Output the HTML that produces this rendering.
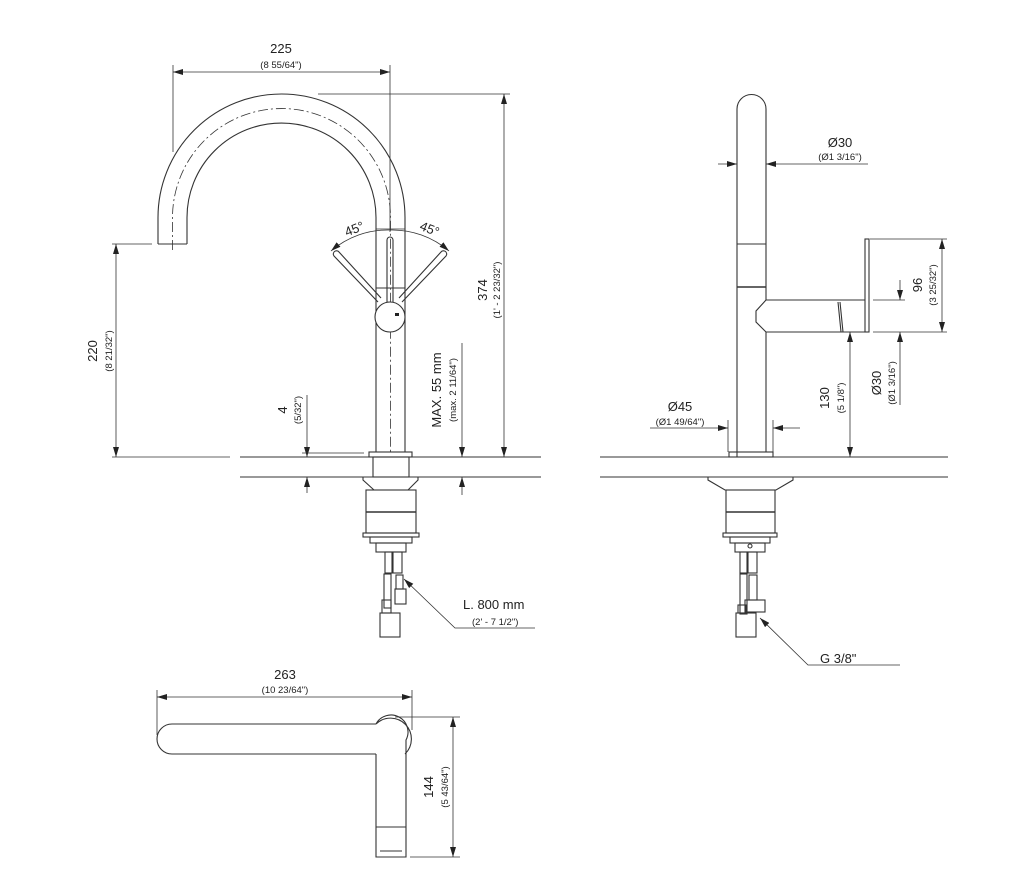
<!DOCTYPE html>
<html><head><meta charset="utf-8"><style>
html,body{margin:0;padding:0;background:#fff;}
svg{display:block;}
text{font-family:"Liberation Sans",sans-serif;fill:#222;}
.b{font-size:13px;}
.s{font-size:9.5px;}
</style></head><body>
<svg width="1027" height="896" viewBox="0 0 1027 896" xmlns="http://www.w3.org/2000/svg">
<defs>
<marker id="a" viewBox="0 0 10 6" refX="10" refY="3" markerWidth="10" markerHeight="6" orient="auto-start-reverse" markerUnits="userSpaceOnUse"><path d="M0,0 L10,3 L0,6 z" fill="#222"/></marker>
</defs>
<g stroke="#333" stroke-width="1.1" fill="none">
<!-- ===== FRONT VIEW ===== -->
<!-- spout outer/inner -->
<path d="M158,244 L158,217.5 A123.5,123.5 0 0 1 405,217.5 L405,452"/>
<path d="M187,244 L187,217.5 A94.5,94.5 0 0 1 376,217.5 L376,452"/>
<line x1="158" y1="244" x2="187" y2="244"/>
<path d="M172.5,250 L172.5,217.5 A109,109 0 0 1 390.5,217.5 L390.5,452" stroke-dasharray="10,3,2,3" stroke-width="0.8"/>
<!-- 225 dim -->
<line x1="173" y1="65" x2="173" y2="152" stroke-width="0.8"/>
<line x1="390" y1="65" x2="390" y2="232" stroke-width="0.8"/>
<line x1="173" y1="72" x2="390" y2="72" marker-start="url(#a)" marker-end="url(#a)" stroke-width="0.8"/>
<!-- 374 dim -->
<line x1="318" y1="94" x2="510" y2="94" stroke-width="0.8"/>
<line x1="504" y1="94" x2="504" y2="457" marker-start="url(#a)" marker-end="url(#a)" stroke-width="0.8"/>
<!-- 220 dim -->
<line x1="112" y1="244" x2="152" y2="244" stroke-width="0.8"/>
<line x1="116" y1="244" x2="116" y2="457" marker-start="url(#a)" marker-end="url(#a)" stroke-width="0.8"/>
<line x1="112" y1="457" x2="230" y2="457" stroke-width="0.8"/>
<!-- floors -->
<line x1="240" y1="457" x2="541" y2="457"/>
<line x1="240" y1="477" x2="541" y2="477"/>
<!-- lever -->
<line x1="376" y1="288" x2="405" y2="288"/>
<circle cx="390" cy="317" r="15" fill="#fff"/>
<rect x="395" y="313" width="4" height="3" fill="#222" stroke="none"/>
<path d="M387,302 L387,240 A3,3 0 0 1 393,240 L393,302"/>
<path d="M378,302 L334,256 A3,3 0 0 1 339,252 L381,298"/>
<path d="M402,302 L446,256 A3,3 0 0 0 441,252 L399,298"/>
<!-- 45 arc -->
<path d="M331,251 A87,87 0 0 1 390,230" marker-start="url(#a)" stroke-width="0.8"/>
<path d="M449,251 A87,87 0 0 0 390,230" marker-start="url(#a)" stroke-width="0.8"/>
<line x1="376" y1="229" x2="405" y2="229" stroke-width="0.8"/>
<!-- 4 dim -->
<line x1="307" y1="395" x2="307" y2="457" marker-end="url(#a)" stroke-width="0.8"/>
<line x1="307" y1="493" x2="307" y2="477" marker-end="url(#a)" stroke-width="0.8"/>
<line x1="302" y1="453" x2="364" y2="453" stroke-width="0.8"/>
<!-- max 55 -->
<line x1="462" y1="343" x2="462" y2="457" marker-end="url(#a)" stroke-width="0.8"/>
<line x1="462" y1="495" x2="462" y2="477" marker-end="url(#a)" stroke-width="0.8"/>
<!-- base -->
<rect x="369" y="452" width="43" height="5"/>
<rect x="373" y="457" width="36" height="20"/>
<path d="M363,477 L418,477 L418,480 L408,490 L374,490 L363,480 Z"/>
<rect x="366" y="490" width="50" height="43"/>
<line x1="366" y1="512" x2="416" y2="512" stroke-width="1.6"/>
<rect x="363" y="533" width="56" height="4"/>
<rect x="370" y="537" width="42" height="6"/>
<rect x="376" y="543" width="30" height="9"/>
<rect x="385" y="552" width="7" height="21"/>
<rect x="393" y="552" width="9" height="21"/>
<rect x="384" y="574" width="7" height="34"/>
<rect x="396" y="575" width="7" height="14"/>
<rect x="395" y="589" width="11" height="15"/>
<rect x="382" y="600" width="9" height="13"/>
<rect x="380" y="613" width="20" height="24"/>
<!-- L800 leader -->
<polyline points="404,579 455,628 535,628" stroke-width="0.8" marker-start="url(#a)"/>

<!-- ===== SIDE VIEW ===== -->
<path d="M737,457 L737,109 A14.5,14.5 0 0 1 766,109 L766,300"/>
<line x1="766" y1="332" x2="766" y2="452"/>
<line x1="737" y1="244" x2="766" y2="244"/>
<line x1="737" y1="287" x2="766" y2="287" stroke-width="1.6"/>
<path d="M766,300 L840,300 M766,332 L840,332 M766,300 L756,311 L756,322 L766,332"/>
<path d="M840,300 L865,300 M840,332 L865,332 M840,302 L843,332 M838,302 L841,332"/>
<rect x="865" y="239" width="4" height="93"/>
<!-- Ø30 top -->
<line x1="718" y1="164" x2="737" y2="164" marker-end="url(#a)" stroke-width="0.8"/>
<line x1="868" y1="164" x2="766" y2="164" marker-end="url(#a)" stroke-width="0.8"/>
<!-- 96 -->
<line x1="870" y1="239" x2="947" y2="239" stroke-width="0.8"/>
<line x1="873" y1="332" x2="947" y2="332" stroke-width="0.8"/>
<line x1="942" y1="239" x2="942" y2="332" marker-start="url(#a)" marker-end="url(#a)" stroke-width="0.8"/>
<!-- Ø30 right -->
<line x1="873" y1="300" x2="905" y2="300" stroke-width="0.8"/>
<line x1="900" y1="280" x2="900" y2="300" marker-end="url(#a)" stroke-width="0.8"/>
<line x1="900" y1="405" x2="900" y2="332" marker-end="url(#a)" stroke-width="0.8"/>
<!-- 130 -->
<line x1="850" y1="332" x2="850" y2="457" marker-start="url(#a)" marker-end="url(#a)" stroke-width="0.8"/>
<!-- Ø45 -->
<line x1="650" y1="428" x2="728" y2="428" marker-end="url(#a)" stroke-width="0.8"/>
<line x1="800" y1="428" x2="773" y2="428" marker-end="url(#a)" stroke-width="0.8"/>
<line x1="728" y1="420" x2="728" y2="452" stroke-width="0.8"/>
<line x1="773" y1="420" x2="773" y2="452" stroke-width="0.8"/>
<rect x="729" y="452" width="44" height="5"/>
<line x1="600" y1="457" x2="948" y2="457"/>
<line x1="600" y1="477" x2="948" y2="477"/>
<!-- under counter side -->
<path d="M708,477 L793,477 L793,480 L776,490 L725,490 L708,480 Z"/>
<rect x="726" y="490" width="49" height="43"/>
<line x1="726" y1="512" x2="775" y2="512" stroke-width="1.6"/>
<rect x="723" y="533" width="54" height="4"/>
<rect x="730" y="537" width="40" height="6"/>
<rect x="735" y="543" width="30" height="9"/>
<circle cx="750" cy="546" r="2"/>
<rect x="740" y="552" width="7" height="21"/>
<rect x="748" y="552" width="9" height="21"/>
<rect x="740" y="574" width="7" height="40"/>
<rect x="749" y="575" width="8" height="25"/>
<rect x="745" y="600" width="20" height="12"/>
<rect x="738" y="605" width="8" height="8"/>
<rect x="736" y="613" width="20" height="24"/>
<polyline points="760,618 808,665 900,665" stroke-width="0.8" marker-start="url(#a)"/>

<!-- ===== TOP VIEW ===== -->
<line x1="157" y1="690" x2="157" y2="735" stroke-width="0.8"/>
<line x1="412" y1="690" x2="412" y2="730" stroke-width="0.8"/>
<line x1="157" y1="697" x2="412" y2="697" marker-start="url(#a)" marker-end="url(#a)" stroke-width="0.8"/>
<path d="M376,724 L172,724 A15,15 0 0 0 172,754 L376,754"/>
<path d="M376,724 A19,19 0 1 1 405,754"/>
<path d="M376,724 A16,16 0 0 1 406,740 L406,754"/>
<path d="M376,754 L376,857 L406,857 L406,754"/>
<line x1="376" y1="827" x2="406" y2="827"/>
<line x1="380" y1="851" x2="402" y2="851"/>
<line x1="395" y1="717" x2="460" y2="717" stroke-width="0.8"/>
<line x1="410" y1="857" x2="460" y2="857" stroke-width="0.8"/>
<line x1="453" y1="717" x2="453" y2="857" marker-start="url(#a)" marker-end="url(#a)" stroke-width="0.8"/>
</g>

<!-- TEXT -->
<text class="b" x="281" y="53" text-anchor="middle">225</text>
<text class="s" x="281" y="68" text-anchor="middle">(8 55/64")</text>
<text class="b" transform="translate(97,351) rotate(-90)" text-anchor="middle">220</text>
<text class="s" transform="translate(112,351) rotate(-90)" text-anchor="middle">(8 21/32")</text>
<text class="b" transform="translate(487,290) rotate(-90)" text-anchor="middle">374</text>
<text class="s" transform="translate(500,290) rotate(-90)" text-anchor="middle">(1' - 2 23/32")</text>
<text class="b" transform="translate(356,233) rotate(-22)" text-anchor="middle">45°</text>
<text class="b" transform="translate(428,233) rotate(22)" text-anchor="middle">45°</text>
<text class="b" transform="translate(287,410) rotate(-90)" text-anchor="middle">4</text>
<text class="s" transform="translate(301,410) rotate(-90)" text-anchor="middle">(5/32")</text>
<text class="b" transform="translate(441,390) rotate(-90)" text-anchor="middle">MAX. 55 mm</text>
<text class="s" transform="translate(456,390) rotate(-90)" text-anchor="middle">(max. 2 11/64")</text>
<text class="b" x="463" y="609">L. 800 mm</text>
<text class="s" x="472" y="625">(2' - 7 1/2")</text>

<text class="b" x="840" y="147" text-anchor="middle">Ø30</text>
<text class="s" x="840" y="160" text-anchor="middle">(Ø1 3/16")</text>
<text class="b" transform="translate(922,285) rotate(-90)" text-anchor="middle">96</text>
<text class="s" transform="translate(936,285) rotate(-90)" text-anchor="middle">(3 25/32")</text>
<text class="b" transform="translate(881,383) rotate(-90)" text-anchor="middle">Ø30</text>
<text class="s" transform="translate(895,383) rotate(-90)" text-anchor="middle">(Ø1 3/16")</text>
<text class="b" transform="translate(829,398) rotate(-90)" text-anchor="middle">130</text>
<text class="s" transform="translate(844,398) rotate(-90)" text-anchor="middle">(5 1/8")</text>
<text class="b" x="680" y="411" text-anchor="middle">Ø45</text>
<text class="s" x="680" y="425" text-anchor="middle">(Ø1 49/64")</text>
<text class="b" x="820" y="663">G 3/8"</text>

<text class="b" x="285" y="679" text-anchor="middle">263</text>
<text class="s" x="285" y="693" text-anchor="middle">(10 23/64")</text>
<text class="b" transform="translate(433,787) rotate(-90)" text-anchor="middle">144</text>
<text class="s" transform="translate(448,787) rotate(-90)" text-anchor="middle">(5 43/64")</text>
</svg>
</body></html>
